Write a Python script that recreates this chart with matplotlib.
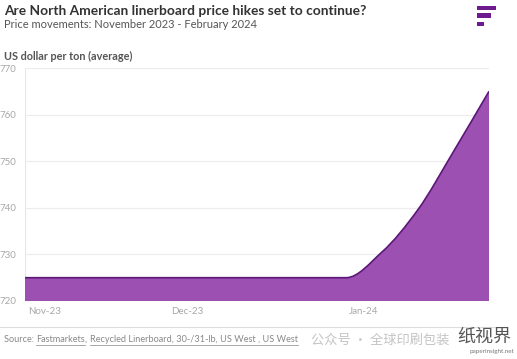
import numpy as np
import matplotlib
matplotlib.use("Agg")
import matplotlib.pyplot as plt
import matplotlib.transforms as mtransforms
from matplotlib.path import Path
from matplotlib.patches import PathPatch, Rectangle

# weekly assessments, Nov 2023 - Feb 2024 (USD per ton)
weeks = ['2023-11-03', '2023-11-10', '2023-11-17', '2023-11-24',
         '2023-12-01', '2023-12-08', '2023-12-15', '2023-12-22', '2023-12-29',
         '2024-01-05', '2024-01-12', '2024-01-19', '2024-01-26', '2024-02-02']
prices = [725, 725, 725, 725, 725, 725, 725, 725, 725,
          725, 730.5, 739.5, 752, 765]
tick_idx = [0, 4, 9]
tick_labels = ['Nov-23', 'Dec-23', 'Jan-24']
y_ticks = [720, 730, 740, 750, 760, 770]

W, H = 517, 359
plt.rcParams['font.family'] = ['Lato', 'DejaVu Sans']

fig = plt.figure(figsize=(W / 100, H / 100), dpi=100)
fig.patch.set_facecolor('white')


def fx(px):
    return px / W


def fy(py):
    return 1 - py / H


ax = fig.add_axes([fx(25), fy(301), fx(489) - fx(25), fy(68) - fy(301)])
x = np.arange(len(prices), dtype=float)
y = np.array(prices, dtype=float)

# monotone cubic tangents (Fritsch-Carlson) -> bezier path, no overshoot
d = np.diff(y) / np.diff(x)
m = np.zeros_like(y)
m[0], m[-1] = d[0], d[-1]
for i in range(1, len(y) - 1):
    if d[i - 1] * d[i] <= 0:
        m[i] = 0
    else:
        m[i] = 2 / (1 / d[i - 1] + 1 / d[i])
verts = [(x[0], y[0])]
codes = [Path.MOVETO]
for i in range(len(x) - 1):
    h = x[i + 1] - x[i]
    verts += [(x[i] + h / 3, y[i] + m[i] * h / 3),
              (x[i + 1] - h / 3, y[i + 1] - m[i + 1] * h / 3),
              (x[i + 1], y[i + 1])]
    codes += [Path.CURVE4] * 3
line_path = Path(verts, codes)
area_path = Path(verts + [(x[-1], 720), (x[0], 720), (x[0], y[0])],
                 codes + [Path.LINETO, Path.LINETO, Path.CLOSEPOLY])

ax.add_patch(PathPatch(area_path, facecolor='#9b50b2', edgecolor='none', zorder=2))
ax.add_patch(PathPatch(line_path, facecolor='none', edgecolor='#5b1878', lw=1.2, zorder=3))

ax.set_xlim(0, 13)
ax.set_ylim(720, 770)
for s in ax.spines.values():
    s.set_visible(False)
ax.axvline(0, color='#e6e6e6', lw=0.8, zorder=1)
ax.set_yticks(y_ticks)
ax.set_yticklabels([str(v) for v in y_ticks])
ax.grid(axis='y', color='#ececec', lw=0.8, zorder=0)
ax.tick_params(axis='y', length=0, pad=6, labelsize=7, labelcolor='#a8a8a8')
ax.set_xticks(tick_idx)
ax.set_xticklabels(tick_labels)
ax.tick_params(axis='x', length=0, pad=4, labelsize=7, labelcolor='#a8a8a8')
off = mtransforms.ScaledTranslation(3 / 100, 0, fig.dpi_scale_trans)
for lab in ax.get_xticklabels():
    lab.set_ha('left')
    lab.set_transform(lab.get_transform() + off)

# header
fig.text(fx(4), fy(11), 'Are North American linerboard price hikes set to continue?',
         fontsize=9.9, fontweight='bold', color='#333333', va='center', ha='left')
fig.text(fx(4), fy(25), 'Price movements: November 2023 - February 2024',
         fontsize=8, color='#555555', va='center', ha='left')
fig.text(fx(4), fy(56), 'US dollar per ton (average)',
         fontsize=7.8, fontweight='bold', color='#555555', va='center', ha='left')

# logo bars
for x0, x1, y0, y1 in [(477, 496, 6, 10), (477, 491, 13, 18), (477, 484, 22, 26)]:
    fig.patches.append(Rectangle((fx(x0), fy(y1)), fx(x1) - fx(x0), fy(y0) - fy(y1),
                                 transform=fig.transFigure, facecolor='#6e1a8f',
                                 edgecolor='none'))

# footer rule + source
fig.add_artist(plt.Line2D([0, fx(503)], [fy(327), fy(327)], color='#dddddd', lw=0.8))
fig.canvas.draw()
renderer = fig.canvas.get_renderer()
pieces = [('Source: ', False), ('Fastmarkets', True), (', ', False),
          ('Recycled Linerboard, 30-/31-lb, US West , US West', True)]
cx = 4
for txt, under in pieces:
    t = fig.text(fx(cx), fy(340), txt, fontsize=6.6, color='#888888', va='center', ha='left')
    bb = t.get_window_extent(renderer)
    if under:
        fig.add_artist(plt.Line2D([fx(cx), fx(cx + bb.width)], [fy(344.5), fy(344.5)],
                                  color='#999999', lw=0.6))
    cx += bb.width

# watermark
fig.text(fx(311), fy(340), '公众号 · 全球印刷包装', fontsize=9.5, color='#c4c4c4',
         va='center', ha='left', family=['Noto Sans CJK SC', 'DejaVu Sans'])
fig.text(fx(457), fy(337), '纸视界', fontsize=13, color='#555555',
         va='center', ha='left', family=['Noto Sans CJK SC', 'DejaVu Sans'])
fig.text(fx(470), fy(352), 'paperinsight.net', fontsize=4.5, color='#777777',
         va='center', ha='left')

fig.savefig('out.png', dpi=100)
